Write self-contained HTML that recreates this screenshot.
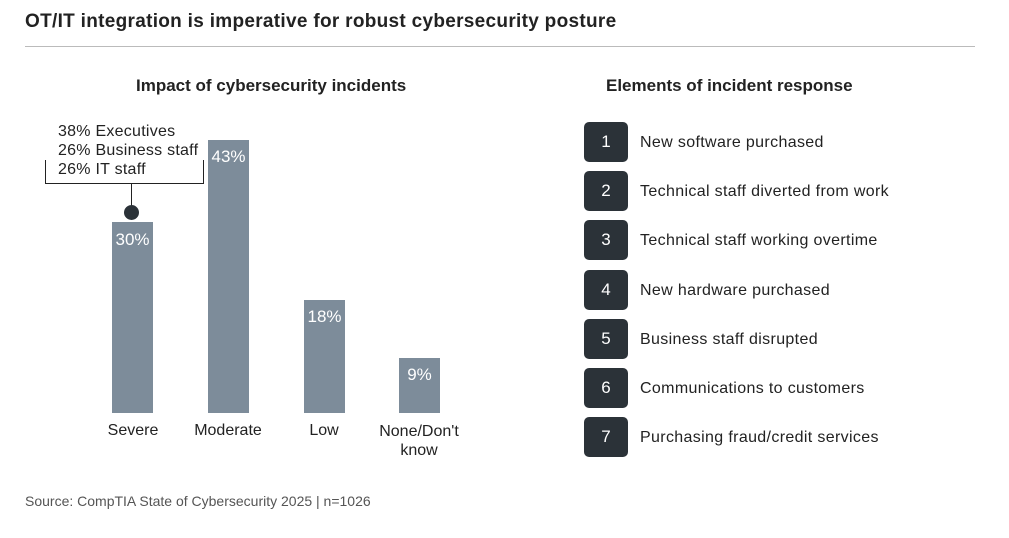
<!DOCTYPE html><html><head><style>
body{margin:0;width:1009px;height:538px;background:#fff;font-family:"Liberation Sans",sans-serif;color:#222;position:relative;overflow:hidden}
.a{position:absolute;white-space:nowrap}
.bar{position:absolute;background:#7d8c9a;width:41px}
.bl{position:absolute;color:#fff;font-size:17px;width:41px;text-align:center}
.box{position:absolute;left:584px;width:44px;height:40px;background:#2b3238;border-radius:5px;color:#fff;font-size:17px;text-align:center;line-height:40px}
.it{position:absolute;left:640px;font-size:16px;letter-spacing:0.35px}
.cat{position:absolute;font-size:16px;text-align:center;width:100px}
</style></head><body>
<div class="a" style="left:25px;top:11px;font-size:19px;font-weight:bold;letter-spacing:0.3px">OT/IT integration is imperative for robust cybersecurity posture</div>
<div class="a" style="left:25px;top:46px;width:950px;height:1px;background:#bbb"></div>
<div class="a" style="left:136px;top:76px;font-size:17px;font-weight:bold">Impact of cybersecurity incidents</div>
<div class="a" style="left:606px;top:76px;font-size:17px;font-weight:bold">Elements of incident response</div>
<div class="a" style="left:58px;top:122px;font-size:16px;line-height:19px;letter-spacing:0.25px">38% Executives<br>26% Business staff<br>26% IT staff</div>
<div class="a" style="left:45px;top:160px;width:157px;height:23px;border:1px solid #222;border-top:none"></div>
<div class="a" style="left:131px;top:183px;width:1px;height:28px;background:#222"></div>
<div class="a" style="left:124px;top:205px;width:15px;height:15px;border-radius:50%;background:#2b3238"></div>
<div class="bar" style="left:112px;top:222px;height:191px"></div><div class="bl" style="left:112px;top:230px">30%</div>
<div class="bar" style="left:208px;top:140px;height:273px"></div><div class="bl" style="left:208px;top:147px">43%</div>
<div class="bar" style="left:304px;top:300px;height:113px"></div><div class="bl" style="left:304px;top:307px">18%</div>
<div class="bar" style="left:399px;top:358px;height:55px"></div><div class="bl" style="left:399px;top:365px">9%</div>
<div class="cat" style="left:83px;top:422px">Severe</div>
<div class="cat" style="left:178px;top:422px">Moderate</div>
<div class="cat" style="left:274px;top:422px">Low</div>
<div class="cat" style="left:369px;top:422px;line-height:19px">None/Don't<br>know</div>
<div class="box" style="top:122px">1</div><div class="it" style="top:134px">New software purchased</div>
<div class="box" style="top:171px">2</div><div class="it" style="top:183px">Technical staff diverted from work</div>
<div class="box" style="top:220px">3</div><div class="it" style="top:232px">Technical staff working overtime</div>
<div class="box" style="top:270px">4</div><div class="it" style="top:282px">New hardware purchased</div>
<div class="box" style="top:319px">5</div><div class="it" style="top:331px">Business staff disrupted</div>
<div class="box" style="top:368px">6</div><div class="it" style="top:380px">Communications to customers</div>
<div class="box" style="top:417px">7</div><div class="it" style="top:429px">Purchasing fraud/credit services</div>
<div class="a" style="left:25px;top:493px;font-size:14px;color:#555">Source: CompTIA State of Cybersecurity 2025 | n=1026</div>
</body></html>
